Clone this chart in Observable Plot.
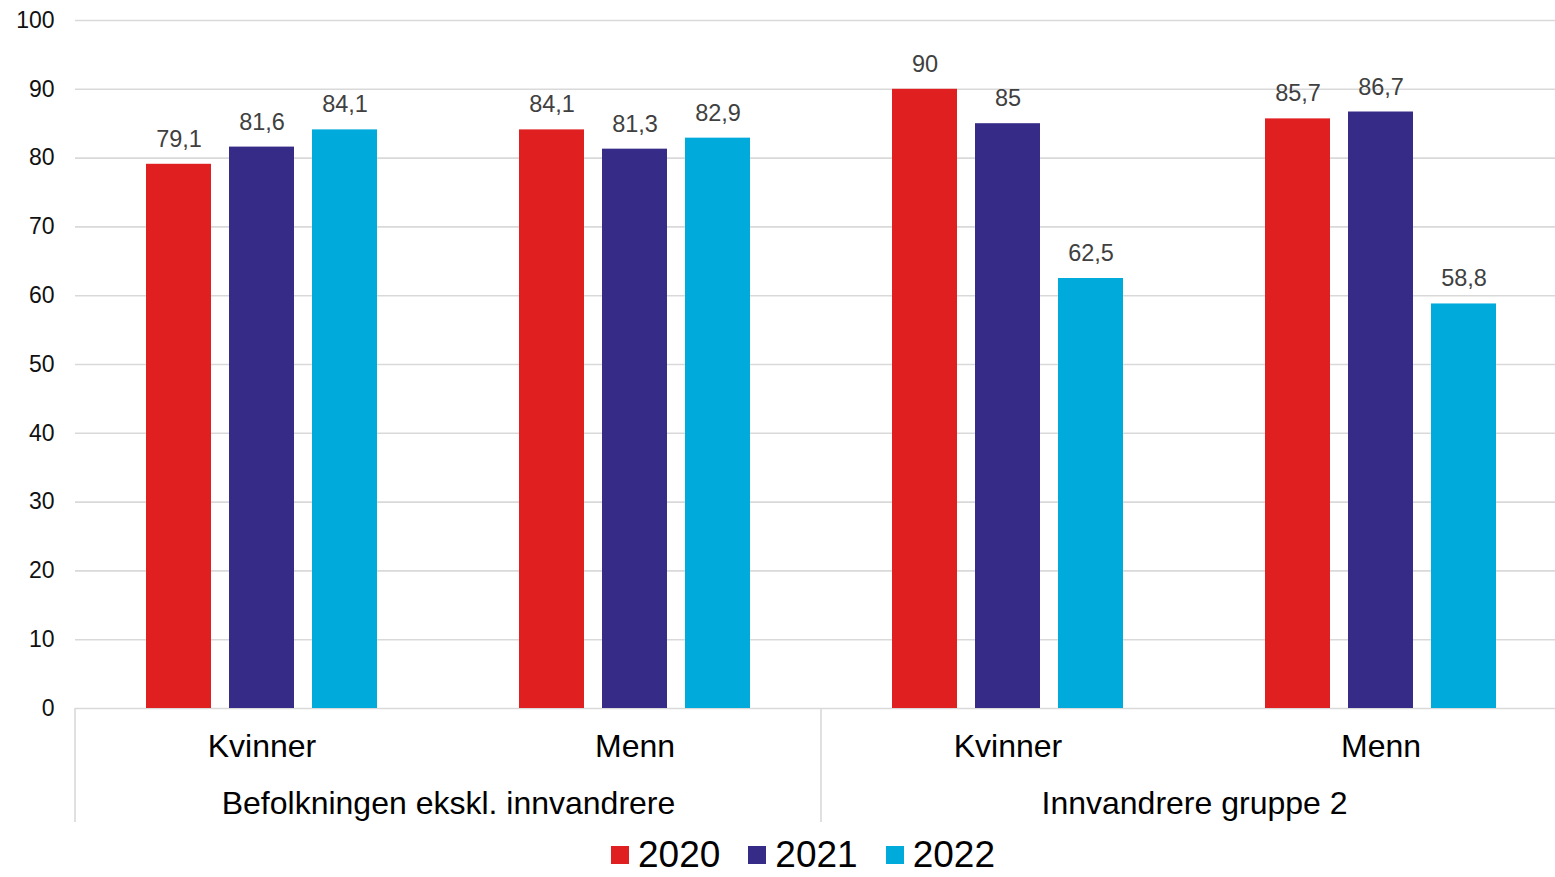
<!DOCTYPE html>
<html>
<head>
<meta charset="utf-8">
<script src="https://cdn.jsdelivr.net/npm/d3@7"></script>
<script src="https://cdn.jsdelivr.net/npm/@observablehq/plot@0.6"></script>
<style>
  html, body { margin: 0; padding: 0; background: #fff; overflow: hidden; }
  #chart svg { overflow: visible; }
  #legend { display: flex; justify-content: center; align-items: center; padding-left: 51px;
    font-family: "Liberation Sans", Arial, sans-serif; font-size: 37px; color: #000; margin-top: 13px; line-height: 40px; }
  .item { display: flex; align-items: center; margin: 0 14px; }
  .sw { width: 18px; height: 18px; margin-right: 9px; }
</style>
</head>
<body>
<div id="chart"></div>
<div id="legend"></div>
<script>
const groups = ["Befolkningen ekskl. innvandrere", "Innvandrere gruppe 2"];
const sexes = ["Kvinner", "Menn"];
const years = ["2020", "2021", "2022"];
const colors = ["#E02020", "#362C87", "#00AADB"];
// order: Bef-Kvinner, Bef-Menn, Innv-Kvinner, Innv-Menn
const values2020 = [79.1, 84.1, 90, 85.7];
const values2021 = [81.6, 81.3, 85, 86.7];
const values2022 = [84.1, 82.9, 62.5, 58.8];
const yTicks = [0, 10, 20, 30, 40, 50, 60, 70, 80, 90, 100];

const series = [values2020, values2021, values2022];
const cats = [];
groups.forEach(g => sexes.forEach(s => cats.push({key: g + "|" + s, group: g, sex: s})));
const rows = [];
cats.forEach((c, i) => years.forEach((y, j) => rows.push({key: c.key, year: y, value: series[j][i]})));
const fmt = v => String(v).replace(".", ",");
const firstOfGroup = cats.filter(c => c.sex === sexes[0]);

const W = 1555, H = 822, ML = 75, MR = -12, MT = 20, MB = 114;
const font = "Liberation Sans, Arial, sans-serif";

const chart = Plot.plot({
  width: W, height: H,
  marginLeft: ML, marginRight: MR, marginTop: MT, marginBottom: MB,
  style: {fontFamily: font, fontSize: "23px", color: "#111", background: "white"},
  fx: {domain: cats.map(c => c.key), padding: 0, axis: null, label: null},
  x: {domain: years, paddingInner: 0.217, paddingOuter: 0.855, axis: null},
  y: {domain: [0, 100], ticks: yTicks, tickSize: 0, tickPadding: 21, label: null, tickFormat: d => d},
  color: {domain: years, range: colors},
  marks: [
    Plot.gridY(yTicks, {stroke: "#d9d9d9", strokeOpacity: 1, strokeWidth: 1.6}),
    Plot.barY(rows, {fx: "key", x: "year", y: "value", fill: "year"}),
    Plot.text(rows, {fx: "key", x: "year", y: "value", text: d => fmt(d.value), dy: -25,
      fontSize: 23.5, fill: "#404040"}),
    Plot.text(cats, {fx: "key", text: "sex", frameAnchor: "bottom", dy: 48, fontSize: 32, fill: "#000"}),
    Plot.text(firstOfGroup, {fx: "key", text: "group", frameAnchor: "bottom-right", textAnchor: "middle",
      dy: 105, fontSize: 32, fill: "#000"})
  ]
});
document.getElementById("chart").appendChild(chart);

// separators between groups, positioned with the library's fx scale
const fxs = chart.scale("fx");
const band = d3.scaleBand().domain(fxs.domain).range(fxs.range).paddingInner(fxs.paddingInner || 0).paddingOuter(fxs.paddingOuter || 0);
const ys = chart.scale("y");
const y0 = d3.scaleLinear().domain(ys.domain).range(ys.range)(0);
const svg = d3.select(chart);
firstOfGroup.forEach(c => {
  const x = band(c.key);
  svg.append("line").attr("x1", x).attr("x2", x).attr("y1", y0).attr("y2", H)
    .attr("stroke", "#d9d9d9").attr("stroke-width", 1.6);
});

const legend = document.getElementById("legend");
years.forEach((y, i) => {
  const it = document.createElement("div"); it.className = "item";
  const sw = document.createElement("div"); sw.className = "sw"; sw.style.background = colors[i];
  const t = document.createElement("span"); t.textContent = y;
  it.appendChild(sw); it.appendChild(t); legend.appendChild(it);
});
</script>
</body>
</html>
